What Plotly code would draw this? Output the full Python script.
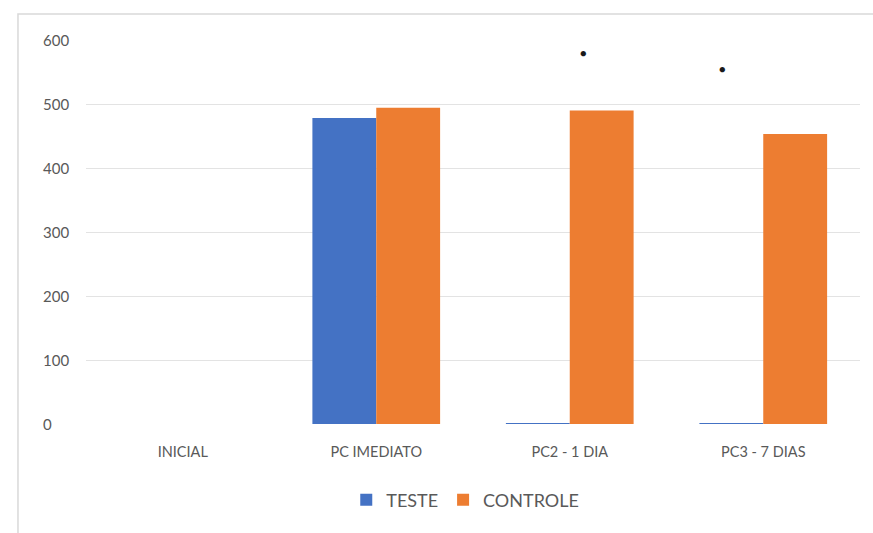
import plotly.graph_objects as go

categories = ["INICIAL", "PC IMEDIATO", "PC2 - 1 DIA", "PC3 - 7 DIAS"]
teste = [None, 478, 1.5, 1.5]
controle = [None, 494, 490, 453]

# significance markers (category position, height)
sig_pos = [2.07, 2.79]
sig_y = [580, 556]

y_ticks = [0, 100, 200, 300, 400, 500, 600]

FONT = "Lato, Carlito, Calibri, sans-serif"
GRAY = "#595959"

fig = go.Figure()
fig.add_trace(go.Bar(name="TESTE", x=categories, y=teste, marker_color="#4472C4",
                     marker_line_width=0))
fig.add_trace(go.Bar(name="CONTROLE", x=categories, y=controle, marker_color="#ED7D31",
                     marker_line_width=0))

for px, py in zip(sig_pos, sig_y):
    fig.add_annotation(x=px, y=py, xref="x", yref="y", text="●", showarrow=False,
                       font=dict(size=11, color="#1a1a1a"))

# value-axis labels, left aligned
for t in y_ticks:
    fig.add_annotation(x=-0.058, y=t, xref="paper", yref="y", text=str(t),
                       showarrow=False, xanchor="left", yanchor="middle",
                       font=dict(size=15, color=GRAY, family=FONT))

fig.add_shape(type="rect", xref="paper", yref="paper",
              x0=-0.0879, y0=-0.35, x1=1.05, y1=1.0677,
              line=dict(color="#d9d9d9", width=1.5), fillcolor="rgba(0,0,0,0)", layer="below")

fig.update_layout(
    width=873, height=533,
    margin=dict(l=86, r=13, t=40, b=109, autoexpand=False),
    paper_bgcolor="white", plot_bgcolor="white",
    barmode="group", bargap=0.34, bargroupgap=0,
    font=dict(family=FONT, color=GRAY, size=14),
    legend=dict(orientation="h", x=0.49, xanchor="center", y=-0.15, yanchor="top",
                font=dict(size=18, color=GRAY), itemwidth=30, tracegroupgap=0),
    xaxis=dict(showline=False, showgrid=False, ticks="", tickfont=dict(size=14.5, color=GRAY),
               ticklabelstandoff=17, automargin=False),
    yaxis=dict(range=[0, 600], tickvals=y_ticks, showgrid=True, gridcolor="#e3e3e3",
               gridwidth=1, zeroline=False, showline=False, ticks="", showticklabels=False,
               automargin=False),
)

fig.write_html("out.html")
